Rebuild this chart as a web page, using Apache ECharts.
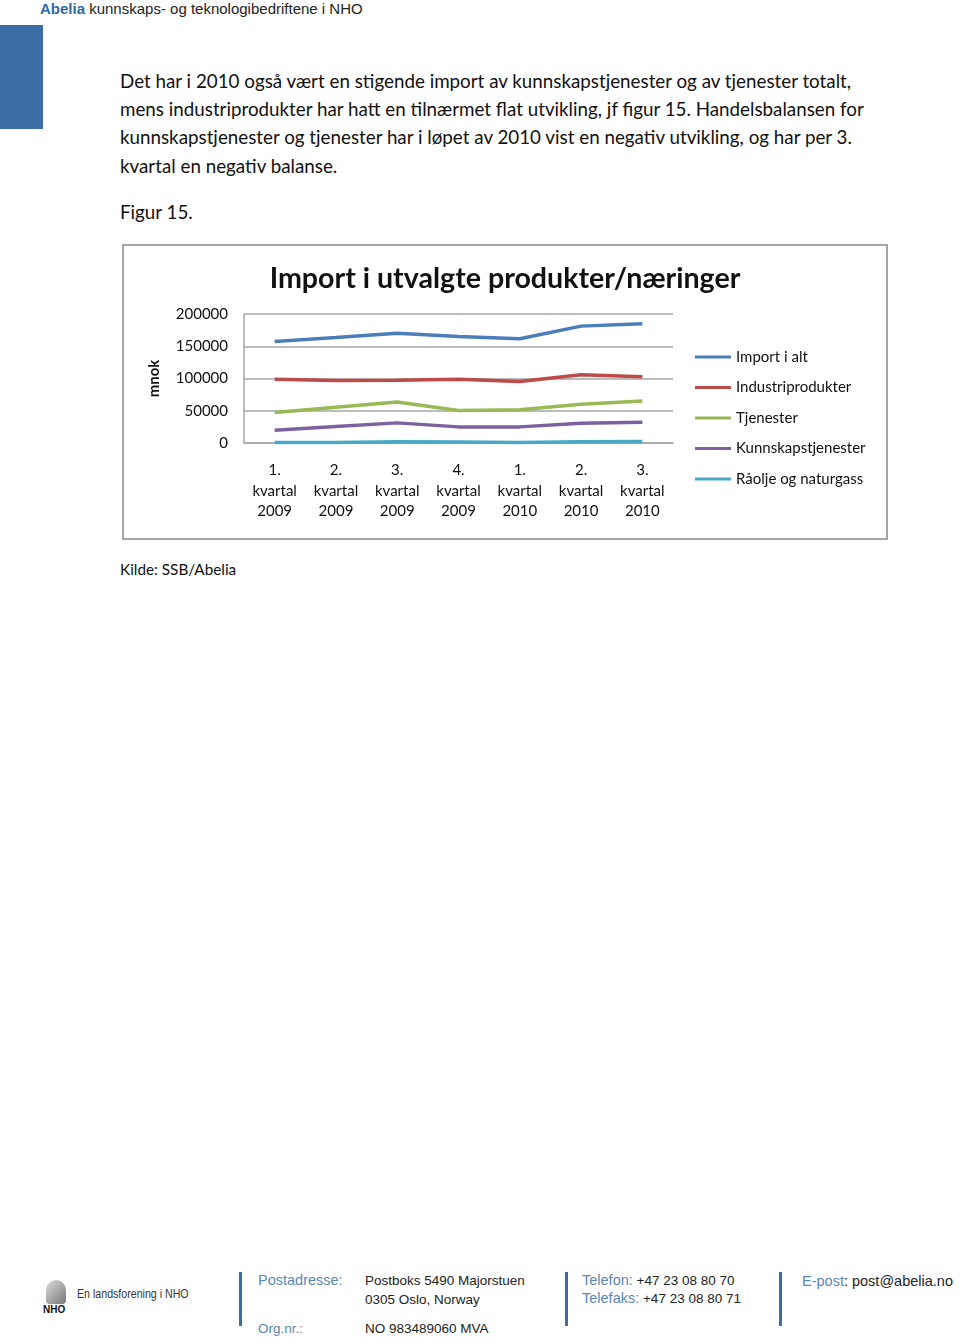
<!DOCTYPE html>
<html><head><meta charset="utf-8">
<script src="https://cdn.jsdelivr.net/npm/echarts@6/dist/echarts.min.js"></script>
<style>
html,body{margin:0;padding:0;background:#fff;}
body{width:960px;height:1337px;position:relative;overflow:hidden;}
.abs{position:absolute;white-space:nowrap;}
.hdr{left:40px;top:0px;font-family:"Liberation Sans",Arial,sans-serif;font-size:15px;color:#222;}
.hdr b{color:#2f6aa5;}
.bluebar{left:0;top:25px;width:43px;height:104px;background:#3a6ea5;}
.body{font-family:Lato,"Noto Sans",sans-serif;font-size:18.8px;color:#111;left:120px;}
.ft{font-family:"Liberation Sans",Arial,sans-serif;font-size:13.5px;color:#222;}
.ftb{color:#5a86b8;font-size:14.5px;}
.vbar{width:3px;height:54px;background:#3a6ea5;top:1272px;}
#chart{position:absolute;left:122px;top:244px;width:766px;height:296px;box-sizing:border-box;border:2px solid #a6a6a6;}
</style></head>
<body>
<div class="abs hdr"><b>Abelia</b> kunnskaps- og teknologibedriftene i NHO</div>
<div class="abs bluebar"></div>
<div class="abs body" style="top:69px">Det har i 2010 også vært en stigende import av kunnskapstjenester og av tjenester totalt,</div>
<div class="abs body" style="top:97px">mens industriprodukter har hatt en tilnærmet flat utvikling, jf figur 15. Handelsbalansen for</div>
<div class="abs body" style="top:125px">kunnskapstjenester og tjenester har i løpet av 2010 vist en negativ utvikling, og har per 3.</div>
<div class="abs body" style="top:154px">kvartal en negativ balanse.</div>
<div class="abs body" style="top:200px">Figur 15.</div>
<div id="chart"></div>
<div class="abs body" style="top:560px;font-size:15.3px">Kilde: SSB/Abelia</div>

<div class="abs" style="left:46px;top:1280px;width:20px;height:24px;border-radius:10px 10px 4px 4px;background:linear-gradient(135deg,#ddd,#777);"></div>
<div class="abs ft" style="left:43px;top:1304px;font-size:10px;font-weight:bold;color:#111">NHO</div>
<div class="abs ft" style="left:77px;top:1287px;font-size:12.5px;color:#333;transform:scaleX(0.85);transform-origin:left">En landsforening i NHO</div>
<div class="abs vbar" style="left:239px"></div>
<div class="abs vbar" style="left:565px"></div>
<div class="abs vbar" style="left:779px"></div>
<div class="abs ft ftb" style="left:258px;top:1272px">Postadresse:</div>
<div class="abs ft" style="left:365px;top:1273px">Postboks 5490 Majorstuen</div>
<div class="abs ft" style="left:365px;top:1292px">0305 Oslo, Norway</div>
<div class="abs ft ftb" style="left:258px;top:1321px;line-height:15px;font-size:13.5px">Org.nr.:</div>
<div class="abs ft" style="left:365px;top:1321px;line-height:15px">NO 983489060 MVA</div>
<div class="abs ft" style="left:582px;top:1272px"><span class="ftb">Telefon:</span> +47 23 08 80 70</div>
<div class="abs ft" style="left:582px;top:1290px"><span class="ftb">Telefaks:</span> +47 23 08 80 71</div>
<div class="abs ft" style="left:802px;top:1273px;font-size:14.5px"><span class="ftb">E-post</span>: post@abelia.no</div>

<script>
const categories = ['1. kvartal 2009','2. kvartal 2009','3. kvartal 2009','4. kvartal 2009','1. kvartal 2010','2. kvartal 2010','3. kvartal 2010'];
const seriesNames = ['Import i alt','Industriprodukter','Tjenester','Kunnskapstjenester','Råolje og naturgass'];
const importIAlt = [157300, 163500, 170300, 165100, 161500, 181200, 184900];
const industriprodukter = [99000, 96900, 97400, 99000, 95300, 105700, 102600];
const tjenester = [47400, 55500, 63500, 50500, 51600, 59900, 65100];
const kunnskapstjenester = [19800, 25500, 31200, 25000, 25000, 30700, 32300];
const raoljeOgNaturgass = [800, 900, 1800, 1600, 800, 2000, 2300];
const yTicks = [0, 50000, 100000, 150000, 200000];

const colors = ['#4a7ebb','#be4b48','#98b954','#7d60a0','#46aac5'];
const allData = [importIAlt, industriprodukter, tjenester, kunnskapstjenester, raoljeOgNaturgass];
const font = 'Lato, "Noto Sans", sans-serif';

const chart = echarts.init(document.getElementById('chart'), null, {renderer:'canvas'});
chart.setOption({
  animation:false,
  color: colors,
  title:{
    text:'Import i utvalgte produkter/næringer',
    left:'center', top:13,
    textStyle:{fontFamily:font,fontWeight:'bold',fontSize:28.6,color:'#111'}
  },
  legend:{
    orient:'vertical', left:566, top:96,
    icon:'rect', itemWidth:36, itemHeight:3, itemGap:10.5,
    textStyle:{fontFamily:font,fontSize:15,color:'#111',lineHeight:20},
    data: seriesNames
  },
  grid:{left:120, right:213, top:68, bottom:95, containLabel:false},
  xAxis:{
    type:'category', data:categories, boundaryGap:true,
    axisLine:{show:true,lineStyle:{color:'#a6a6a6',width:1.5}},
    axisTick:{show:false},
    axisLabel:{
      interval:0, margin:17, color:'#111', fontFamily:font, fontSize:15, lineHeight:20.5,
      formatter:(v)=>v.split(' ').join('\n')
    }
  },
  yAxis:{
    type:'value', min:yTicks[0], max:yTicks[yTicks.length-1], interval:50000,
    name:'mnok', nameLocation:'middle', nameRotate:90, nameGap:82,
    nameTextStyle:{fontFamily:font,fontWeight:'bold',fontSize:15,color:'#111'},
    axisLine:{show:true,lineStyle:{color:'#a6a6a6',width:1.5}},
    axisTick:{show:false},
    splitLine:{show:true,lineStyle:{color:'#a6a6a6',width:1.5}},
    axisLabel:{margin:16,color:'#111',fontFamily:font,fontSize:15,formatter:(v)=>String(v)}
  },
  series: seriesNames.map((n,i)=>({
    name:n, type:'line', data:allData[i], symbol:'none', smooth:false,
    lineStyle:{width:3.5,color:colors[i]}
  }))
});
</script>
</body></html>
